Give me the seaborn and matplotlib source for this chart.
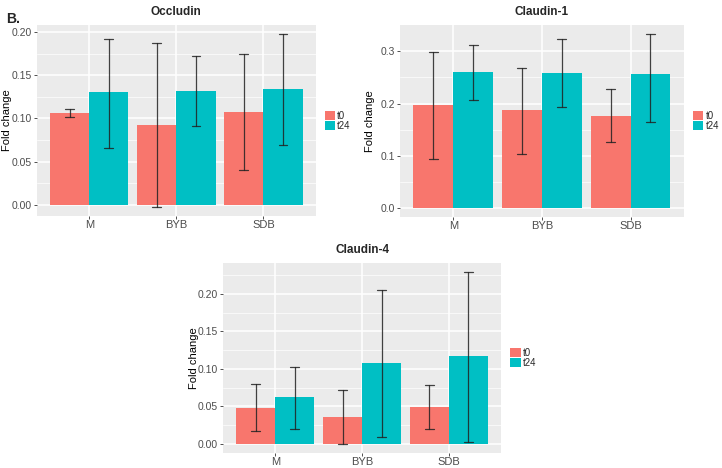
import pandas as pd
import seaborn as sns
import matplotlib.pyplot as plt
from matplotlib.ticker import AutoMinorLocator, MultipleLocator

# Categories and series
groups = ["M", "BYB", "SDB"]
times = ["t0", "t24"]

# Occludin (means, lower and upper error bounds)
occ_t0 = [0.106, 0.092, 0.107]
occ_t24 = [0.130, 0.132, 0.134]
occ_t0_lo = [0.101, -0.003, 0.040]
occ_t0_hi = [0.111, 0.187, 0.175]
occ_t24_lo = [0.066, 0.091, 0.069]
occ_t24_hi = [0.192, 0.172, 0.198]

# Claudin-1
cl1_t0 = [0.197, 0.187, 0.177]
cl1_t24 = [0.260, 0.259, 0.257]
cl1_t0_lo = [0.095, 0.104, 0.126]
cl1_t0_hi = [0.298, 0.268, 0.227]
cl1_t24_lo = [0.207, 0.193, 0.165]
cl1_t24_hi = [0.312, 0.323, 0.333]

# Claudin-4
cl4_t0 = [0.048, 0.036, 0.049]
cl4_t24 = [0.062, 0.108, 0.117]
cl4_t0_lo = [0.017, -0.0004, 0.020]
cl4_t0_hi = [0.080, 0.0715, 0.078]
cl4_t24_lo = [0.020, 0.009, 0.002]
cl4_t24_hi = [0.103, 0.206, 0.230]

colors = {"t0": "#F8766D", "t24": "#00BFC4"}

sns.set_theme(style="darkgrid", rc={"axes.facecolor": "#EBEBEB", "grid.color": "white"})
plt.rcParams["font.family"] = ["Liberation Sans", "DejaVu Sans"]

fig = plt.figure(figsize=(7.22, 4.68), dpi=100)


# Draw one ggplot-like dodged bar panel
def panel(rect, title, t0, t24, t0_lo, t0_hi, t24_lo, t24_hi, major):
    ax = fig.add_axes(rect)
    wpx = rect[2] * 722
    df = pd.DataFrame({
        "group": groups * 2,
        "time": ["t0"] * 3 + ["t24"] * 3,
        "value": t0 + t24,
    })
    sns.barplot(data=df, x="group", y="value", hue="time", order=groups,
                hue_order=times, palette=colors, width=0.9, saturation=1,
                errorbar=None, linewidth=0, edgecolor="none", ax=ax)

    # Error bars centred on each drawn bar
    bounds = [(t0_lo, t0_hi), (t24_lo, t24_hi)]
    for cont, (lo, hi) in zip(ax.containers, bounds):
        for p, l, h in zip(cont.patches, lo, hi):
            xc = p.get_x() + p.get_width() / 2
            ax.plot([xc, xc], [l, h], color="#222222", lw=0.9, alpha=0.85)
            ax.plot([xc - 0.05, xc + 0.05], [l, l], color="#222222", lw=0.9, alpha=0.85)
            ax.plot([xc - 0.05, xc + 0.05], [h, h], color="#222222", lw=0.9, alpha=0.85)

    # ggplot style 5% expansion
    ymin = min(0, min(t0_lo + t24_lo))
    ymax = max(t0_hi + t24_hi)
    pad = (ymax - ymin) * 0.05
    ax.set_ylim(ymin - pad, ymax + pad)
    ax.set_xlim(-0.6, 2.6)

    ax.yaxis.set_major_locator(MultipleLocator(major))
    ax.yaxis.set_minor_locator(AutoMinorLocator(2))
    if major < 0.1:
        ax.yaxis.set_major_formatter(lambda v, pos: f"{v:.2f}")
    else:
        ax.yaxis.set_major_formatter(lambda v, pos: f"{v:.1f}")
    ax.grid(which="major", color="white", lw=1.1)
    ax.grid(which="minor", axis="y", color="white", lw=0.5)
    ax.set_axisbelow(True)
    for s in ax.spines.values():
        s.set_visible(False)

    ax.tick_params(which="major", left=True, bottom=True, length=2.5, width=0.6,
                   color="#333333", labelsize=7.5, labelcolor="#4D4D4D", pad=1)
    ax.tick_params(axis="x", labelsize=8, pad=0.5)
    ax.tick_params(which="minor", length=0)
    ax.set_xlabel("")
    ax.set_ylabel("Fold change", fontsize=8, color="black")
    # label sits close to the tick labels, as in ggplot output
    ax.yaxis.set_label_coords(-24.5 / wpx, 0.5)
    ax.set_title(title, fontsize=8.5, fontweight="bold", pad=7)

    sns.move_legend(ax, "center left", bbox_to_anchor=(1 + 9 / wpx, 0.5), title=None,
                    frameon=False, fontsize=7, handlelength=1.1, handleheight=1.1,
                    handletextpad=0.2, labelspacing=0, borderaxespad=0, borderpad=0)
    return ax


panel([0.0512, 0.5385, 0.386, 0.408], "Occludin",
      occ_t0, occ_t24, occ_t0_lo, occ_t0_hi, occ_t24_lo, occ_t24_hi, 0.05)
panel([0.554, 0.5363, 0.393, 0.410], "Claudin-1",
      cl1_t0, cl1_t24, cl1_t0_lo, cl1_t0_hi, cl1_t24_lo, cl1_t24_hi, 0.1)
panel([0.309, 0.033, 0.385, 0.405], "Claudin-4",
      cl4_t0, cl4_t24, cl4_t0_lo, cl4_t0_hi, cl4_t24_lo, cl4_t24_hi, 0.05)

fig.text(0.008, 0.975, "B.", fontsize=10, fontweight="bold", va="top", ha="left")

fig.savefig("out.png", dpi=100)
